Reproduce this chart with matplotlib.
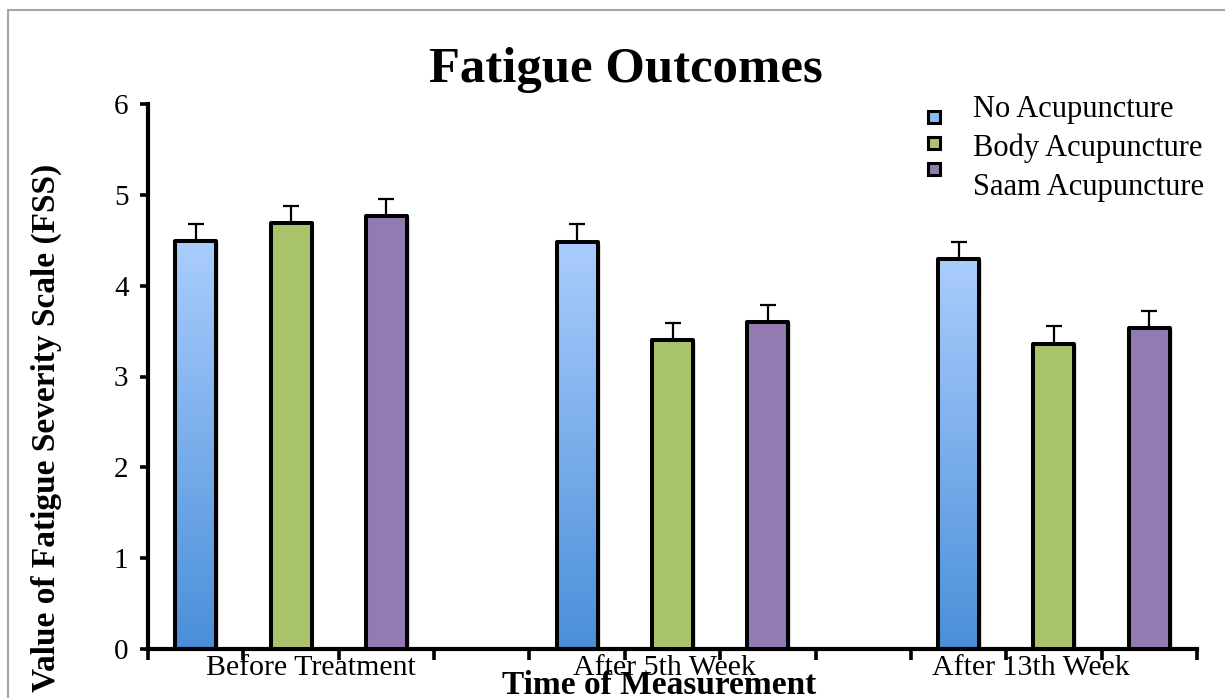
import matplotlib
matplotlib.use("Agg")
import matplotlib.pyplot as plt
import numpy as np
from matplotlib.patches import Rectangle
from matplotlib.colors import LinearSegmentedColormap
import matplotlib.transforms as mtransforms

# data
groups = ["Before Treatment", "After 5th Week", "After 13th Week"]
series = ["No Acupuncture", "Body Acupuncture", "Saam Acupuncture"]
no_acu = [4.49, 4.48, 4.29]
body_acu = [4.69, 3.40, 3.36]
saam_acu = [4.77, 3.60, 3.53]
no_err = [0.19, 0.20, 0.19]
body_err = [0.19, 0.19, 0.20]
saam_err = [0.18, 0.19, 0.19]

plt.rcParams["font.family"] = ["Liberation Serif", "DejaVu Serif"]

fig = plt.figure(figsize=(12.25, 6.98), dpi=100)
ax = fig.add_axes([148 / 1225, 1 - 649 / 698, (1197 - 148) / 1225, (649 - 104) / 698])

# outer gray frame (only left and top show in the picture)
fig.add_artist(Rectangle((8 / 1225, -0.1), 1.2, 1 - 10 / 698 + 0.1,
                         transform=fig.transFigure, fill=False,
                         edgecolor="#a6a6a6", lw=1.5))

blue_cmap = LinearSegmentedColormap.from_list("blu", ["#4a8fd9", "#aacdfd"])
fills = [None, "#aac46b", "#937ab0"]
values = [no_acu, body_acu, saam_acu]
errs = [no_err, body_err, saam_err]
width = 0.43

for s in range(3):
    xs = [g * 4 + s + 0.5 for g in range(3)]
    for x, v in zip(xs, values[s]):
        # soft shadow
        ax.add_patch(Rectangle((x - width / 2 + 0.03, 0), width, v - 0.02,
                               facecolor="#000000", alpha=0.12, lw=0, zorder=1))
    bars = ax.bar(xs, values[s], width=width,
                  color=fills[s] if fills[s] else "none",
                  edgecolor="black", linewidth=2.9, joinstyle="round", zorder=3)
    if fills[s] is None:
        for b in bars:
            x0, h = b.get_x(), b.get_height()
            grad = np.linspace(0, 1, 256).reshape(-1, 1)
            im = ax.imshow(grad, cmap=blue_cmap, origin="lower", aspect="auto",
                           extent=(x0, x0 + width, 0, h), zorder=2)
            im.set_clip_path(b)
    ax.errorbar(xs, values[s], yerr=[[0, 0, 0], errs[s]], fmt="none",
                ecolor="black", elinewidth=1.6, capsize=6, capthick=1.6,
                zorder=2.5)

ax.set_xlim(0, 11)
ax.set_ylim(0, 6)
ax.set_xticks(np.arange(0, 12))
ax.set_xticklabels([])
ax.set_yticks(range(7))
ax.tick_params(axis="y", direction="out", length=6, width=2.6, labelsize=21, pad=8)
ax.tick_params(axis="x", direction="out", length=8, width=2.6)
for side in ["top", "right"]:
    ax.spines[side].set_visible(False)
for side in ["left", "bottom"]:
    ax.spines[side].set_linewidth(3)
ax.patch.set_alpha(0)

trans = mtransforms.blended_transform_factory(ax.transData, fig.transFigure)
for xpos, g in zip([1.71, 5.42, 9.26], groups):
    ax.text(xpos, 1 - 675 / 698, g, transform=trans, ha="center", va="baseline",
            fontsize=21.5)

fig.text(659 / 1225, 1 - 694 / 698, "Time of Measurement", ha="center", va="baseline",
         fontsize=24, fontweight="bold")
fig.text(46 / 1225, 1 - 428 / 698, "Value of Fatigue Severity Scale (FSS)",
         rotation=90, ha="center", va="center", fontsize=24, fontweight="bold")
fig.text(626 / 1225, 1 - 70 / 698, "Fatigue Outcomes", ha="center", va="center",
         fontsize=36.5, fontweight="bold")

# legend drawn by hand
leg_colors = ["#8dbaf2", "#aac46b", "#937ab0"]
marker_y = [117, 143, 169]
text_y = [109, 148, 187]
for c, my, ty, name in zip(leg_colors, marker_y, text_y, series):
    fig.add_artist(Rectangle(((934 - 6) / 1225, 1 - (my + 6) / 698), 12 / 1225, 12 / 698,
                             transform=fig.transFigure, facecolor=c,
                             edgecolor="black", lw=2.2))
    fig.text(973 / 1225, 1 - ty / 698, name, ha="left", va="center", fontsize=22)

plt.savefig("out.png", dpi=100)
